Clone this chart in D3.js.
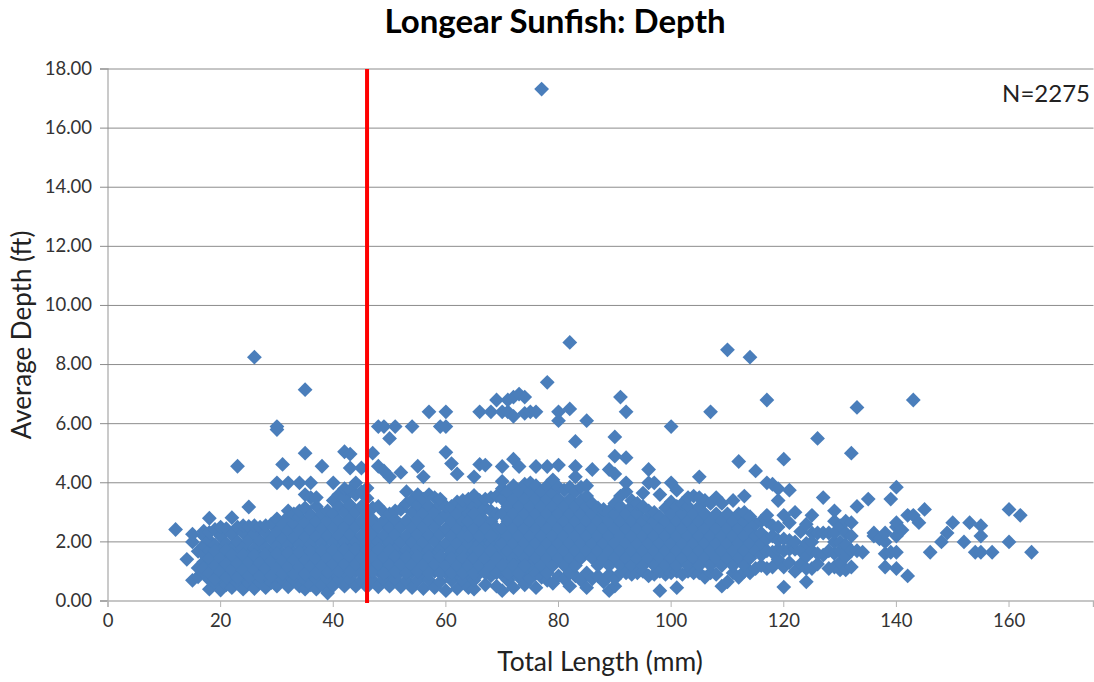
<!DOCTYPE html>
<html><head><meta charset="utf-8">
<script src="https://cdn.jsdelivr.net/npm/d3@7/dist/d3.min.js"></script>
<style>html,body{margin:0;background:#fff}svg{display:block}text{font-family:Lato,"Open Sans",sans-serif}</style>
</head><body><div id="c"></div>
<script>
const chartTitle = "Longear Sunfish: Depth";
const xLabel = "Total Length (mm)";
const yLabel = "Average Depth (ft)";
const note = "N=2275";
const xTicks = [0,20,40,60,80,100,120,140,160];
const yTicks = [0,2,4,6,8,10,12,14,16,18];
const cutoffLength = 46;
const lengths = [12,14,15,16,17,18,19,20,21,22,23,24,25,26,27,28,29,30,31,32,33,34,35,36,37,38,39,40,41,42,43,44,45,46,47,48,49,50,51,52,53,54,55,56,57,58,59,60,61,62,63,64,65,66,67,68,69,70,71,72,73,74,75,76,77,78,79,80,81,82,83,84,85,86,87,88,89,90,91,92,93,94,95,96,97,98,99,100,101,102,103,104,105,106,107,108,109,110,111,112,113,114,115,116,117,118,119,120,121,122,123,124,125,126,127,128,129,130,131,132,133,134,135,136,137,138,139,140,141,142,143,144,145,146,148,149,150,152,153,154,155,157,160,162,164];
const depths = [
[2.42],[1.41],[0.7,2,2.26],[0.82,1.12,1.68],[0.95,1.32,1.58,1.88,2.2,2.36],
[0.4,0.72,1.2,1.7,2.05,2.32,2.8],[0.6,0.95,1.45,1.9,2.42],[0.37,0.8,1.25,1.7,2.2,2.5],[0.55,1.05,1.5,1.95,2.45],[0.45,0.8,1.3,1.75,2.25,2.82],
[0.62,1,1.55,2,2.5,4.56],[0.4,0.85,1.3,1.8,2.3,2.55],[0.6,1.1,1.55,2.05,2.52,3.18],[0.42,0.82,1.3,1.78,2.28,2.55,8.25],[0.65,1.05,1.52,2.02,2.5],
[0.45,0.88,1.35,1.8,2.3,2.55],[0.62,1.1,1.6,2.08,2.6],[0.5,0.85,1.35,1.85,2.35,2.78,4,5.8,5.9],[0.72,1.12,1.6,2.1,2.6,4.62],[0.48,0.9,1.38,1.88,2.38,2.85,3.05,4],
[0.7,1.15,1.62,2.12,2.62,2.95],[0.5,0.92,1.4,1.9,2.4,2.85,3.05,4],[0.4,0.7,1.15,1.65,2.15,2.65,3.15,3.6,5,7.15],[0.55,0.95,1.42,1.92,2.42,2.9,3.5,4],[0.4,0.72,1.18,1.68,2.18,2.68,3.2,3.5],
[0.55,0.98,1.45,1.95,2.45,2.95,4.56],[0.27,0.75,1.2,1.7,2.2,2.7,3.05],[0.52,1,1.48,1.98,2.48,2.95,3.4,4],[0.75,1.22,1.72,2.22,2.72,3.2,3.6],[0.5,0.98,1.5,2,2.5,3,3.5,3.8,5.05],
[0.72,1.25,1.75,2.25,2.75,3.25,3.75,4.5,4.97],[0.5,1,1.5,2,2.5,3,3.6,4],[0.7,1.22,1.72,2.22,2.72,3.2,3.7,4.5],[0.48,0.98,1.48,1.98,2.48,2.98,3.48,3.82],[0.7,1.25,1.75,2.25,2.75,3.15,5],
[0.48,1,1.5,2,2.5,3.2,4.56,5.9],[0.72,1.22,1.72,2.22,2.72,3,4.4,5.9],[0.5,0.98,1.48,1.98,2.48,2.95,4.2,5.5],[0.72,1.25,1.75,2.25,2.75,3.05,5.9],[0.48,1,1.5,2,2.5,3.1,4.35],
[0.7,1.22,1.72,2.22,2.72,3.3,3.7],[0.45,0.98,1.48,1.98,2.48,3,3.4,5.9],[0.7,1.25,1.75,2.25,2.75,3.25,3.6,4.56],[0.42,0.98,1.48,1.98,2.48,2.98,3.45,4.2],[0.7,1.22,1.72,2.22,2.72,3.2,3.6,6.4],
[0.45,1,1.5,2,2.5,3,3.5],[0.65,1.25,1.75,2.25,2.75,3.25,3.45,5.9],[0.35,0.95,1.45,1.95,2.45,2.95,3.2,5.03,5.9,6.4],[0.7,1.2,1.7,2.2,2.7,3.2,4.65],[0.42,0.95,1.45,1.95,2.45,2.95,3.35,4.3],
[0.68,1.2,1.7,2.2,2.7,3.2,3.4],[0.45,0.95,1.45,1.95,2.45,2.95,3.45],[0.4,0.7,1.2,1.7,2.2,2.7,3.2,3.57,4.2],[0.95,1.45,1.95,2.45,2.95,3.4,4.62,6.4],[0.55,1.2,1.7,2.2,2.7,3.15,3.45,4.6],
[0.85,1.45,1.95,2.7,3.05,3.5,6.4],[0.5,1.2,1.7,2.2,2.45,2.95,3.55,6.8],[0.35,0.9,1.45,1.95,2.45,2.95,3.45,3.8,4.05,4.55,6.4],[0.7,1.2,1.7,2.2,2.7,3.2,3.7,6.4,6.8],[0.45,0.95,1.45,1.95,2.45,2.95,3.45,3.9,4.8,6.25,6.9],
[0.8,1.2,1.7,2.2,2.7,3.2,3.7,4.55,7],[0.55,0.95,1.45,1.95,2.45,2.95,3.45,3.95,6.35,6.9],[0.75,1.2,1.7,2.2,2.7,3.2,3.7,4,6.4],[0.45,0.95,1.45,1.95,2.45,2.95,3.45,3.9,4.55,6.4],[0.8,1.2,1.7,2.2,2.7,3.2,3.7,17.32],
[0.7,0.95,1.45,1.95,2.45,2.95,3.45,3.9,4.55,7.4],[0.6,1.2,1.7,2.2,2.7,3.2,3.65,4.1],[0.85,1.45,1.95,2.45,2.95,3.45,3.85,4.6,6.1,6.4],[0.75,1.2,1.7,2.2,2.7,3.2,3.75],[0.5,0.95,1.45,1.95,2.45,2.95,3.45,3.85,6.5,8.75],
[0.85,1.2,1.7,2.2,2.7,3.2,3.7,4.2,4.55,5.4],[0.7,1.45,1.95,2.45,2.95,3.4,3.85],[0.45,0.95,1.7,2.2,2.7,3.2,3.55,3.9,6.1],[0.75,1.45,1.95,2.45,2.95,3.3,4.45],[0.85,1.2,1.7,2.2,2.7,3.15],
[0.65,1.45,1.95,2.45,2.95,3.1],[0.35,0.9,1.2,1.7,2.2,2.7,3.05,4.45],[0.5,0.75,1.45,1.95,2.45,2.95,3.3,4.3,4.9,5.55],[0.95,1.2,1.7,2.2,2.7,3.2,3.55,6.9],[0.95,1.45,1.95,2.45,2.95,3.7,4,4.85,6.4],
[0.9,1.2,1.7,2.2,2.7,3.2,3.4],[0.95,1.45,1.95,2.45,2.95,3.3],[1,1.2,1.7,2.2,2.7,3.2,3.65],[0.85,1.45,1.95,2.45,2.85,3.05,4,4.45],[0.9,1.2,1.7,2.2,2.7,3,4],
[0.35,1,1.45,1.95,2.45,2.85,3.6],[0.9,1.2,1.7,2.2,2.7,3.15],[0.95,1.45,1.95,2.45,2.95,3.35,4,5.9],[0.45,1,1.2,1.7,2.2,2.7,3.2,3.75],[0.9,1.45,1.95,2.45,2.95,3.3],
[1,1.2,1.7,2.2,2.7,3.2,3.5],[0.95,1.45,1.95,2.45,2.95,3.55],[0.95,1.2,1.7,2.2,2.7,3.2,3.5,4.2],[0.8,1.45,1.95,2.45,2.95,3.4],[0.95,1.2,1.7,2.2,2.7,3.3,6.4],
[0.9,1.45,1.95,2.45,2.95,3.5],[0.5,1.2,1.7,2.2,2.7,3.3],[0.65,1.45,1.95,2.45,2.95,8.5],[0.95,1.2,1.7,2.2,2.7,3.4],[0.8,1.45,1.95,2.45,2.95,4.72],
[1,1.2,1.7,2.2,2.7,3,3.55],[0.95,1.45,1.95,2.45,2.85,8.25],[1.1,1.7,2.2,2.6,4.4],[1.2,1.55,1.95,2.3,2.7],[1.1,1.7,2.1,2.7,2.9,4,6.8],
[1.15,1.65,2.2,2.55,3.95],[1.4,1.75,2.05,2.5,3.4,3.8],[0.47,1.15,1.7,2.1,2.9,4.8],[1.3,1.75,2.05,2.65,3.75],[1,1.75,2,3],
[1.25,1.7,2.35],[0.65,1.1,1.5,1.95,2.6],[1.1,1.7,2,2.3,2.9],[1.25,1.6,2.3,5.5],[1.55,2.3,3.5],[1.1,1.7,2.3],[1.15,1.6,2,2.3,2.7,3.05],[1.05,1.3,1.7,2,2.55],[1.05,1.5,1.9,2.3,2.7],[1.15,1.7,2.2,2.65,5],[1.7,3.2,6.55],[1.65],[3.45],[2.2,2.3],[2.1],[1.15,1.6,2,2.3],[1.65,3.45],[1.1,1.65,2.2,2.5,2.65,3.85],[2.4],[0.85,2.9],[2.9,6.8],[2.65],[3.1],[1.65],[2],[2.3],[2.65],[2],[2.65],[1.65],[1.65,2.2,2.55],[1.65],[2,3.1],[2.9],[1.65]
];
const extraLengths = [17,18,18,19,19,19,20,20,21,21,21,22,22,23,23,24,24,25,25,26,26,27,27,28,28,29,29,30,30,31,31,32,32,33,33,34,34,35,35,36,36,37,37,38,38,39,39,40,40,41,41,42,42,43,43,44,44,45,45,46,46,47,47,48,48,49,49,50,50,51,51,52,53,53,54,55,55,56,57,57,58,59,59,60,61,61,62,63,63,64,64,64,65,65,65,65,66,66,66,66,67,67,67,68,68,68,69,69,70,71,72,73,74];
const extraDepths = [1.1,0.95,1.45,0.75,1.2,1.7,1,1.45,0.8,1.25,1.72,1.05,1.55,0.8,1.28,1.05,1.55,0.85,1.32,1.05,1.55,0.85,1.28,1.1,1.58,0.85,1.35,1.1,1.6,0.92,1.36,1.15,1.62,0.92,1.38,1.15,1.65,0.92,1.4,1.18,1.68,0.95,1.42,1.2,1.7,0.98,1.45,1.25,1.72,1,1.48,1.25,1.75,1,1.5,1.25,1.75,0.95,1.47,1.22,1.72,1,1.5,1.25,1.75,0.95,1.48,1.22,1.72,1,1.5,1.25,0.95,1.48,1.22,1,1.5,1.22,0.95,1.48,1.25,0.95,1.5,1.2,0.95,1.45,1.2,0.95,1.45,1.2,2.2,2.7,0.95,1.45,2.45,2.95,1.2,1.7,2.2,2.7,0.95,1.45,2.45,1.2,1.7,2.2,0.95,1.45,1.2,0.95,1.2,0.95,1.2];
const W=1094,H=682,m={l:108,r:1093.5,t:69,b:601};
const x=d3.scaleLinear().domain([0,175]).range([m.l,m.r]);
const y=d3.scaleLinear().domain([0,18]).range([m.b,m.t]);
const svg=d3.select("#c").append("svg").attr("width",W).attr("height",H);
const gridC="#8c8c8c", axisC="#b4b4b4", tickC="#333333";
const gy=svg.append("g").attr("transform",`translate(${m.l},0)`).call(d3.axisLeft(y).tickValues(yTicks).tickFormat(d3.format(".2f")).tickSize(8).tickPadding(8).offset(0));
gy.select(".domain").attr("stroke",axisC).attr("stroke-width",1.4);
gy.selectAll(".tick line").attr("stroke",gridC);
gy.selectAll(".tick text").attr("font-size",18.5).attr("fill",tickC).style("font-family","Lato");
svg.append("g").selectAll("line").data(yTicks.filter(d=>d>0)).join("line").attr("x1",m.l).attr("x2",m.r).attr("y1",d=>y(d)).attr("y2",d=>y(d)).attr("stroke",gridC);
const gx=svg.append("g").attr("transform",`translate(0,${m.b})`).call(d3.axisBottom(x).tickValues(xTicks).tickSize(6).tickPadding(7).offset(0));
gx.select(".domain").attr("stroke",axisC).attr("stroke-width",1.4);
gx.selectAll(".tick line").attr("stroke",axisC);
gx.selectAll(".tick text").attr("font-size",18.5).attr("fill",tickC).style("font-family","Lato");
const pts=lengths.flatMap((l,i)=>depths[i].map(d=>({l,d}))).concat(extraLengths.map((l,i)=>({l,d:extraDepths[i]})));
svg.append("g").selectAll("path").data(pts).join("path")
 .attr("d",d=>{const r=7.4,cx=x(d.l),cy=y(d.d);const p=d3.path();p.moveTo(cx,cy-r);p.lineTo(cx+r,cy);p.lineTo(cx,cy+r);p.lineTo(cx-r,cy);p.closePath();return p.toString();})
 .attr("fill","#4a7ebb");
svg.append("line").attr("x1",x(cutoffLength)).attr("x2",x(cutoffLength)).attr("y1",y(18)).attr("y2",y(0)+2).attr("stroke","#ff0000").attr("stroke-width",4);
svg.append("text").attr("x",555).attr("y",33).attr("text-anchor","middle").attr("font-size",33).attr("font-weight",700).attr("fill","#000").text(chartTitle);
svg.append("text").attr("x",600).attr("y",671).attr("text-anchor","middle").attr("font-size",26.4).attr("fill","#222").text(xLabel);
svg.append("text").attr("transform","translate(31,335) rotate(-90)").attr("text-anchor","middle").attr("font-size",26).attr("fill","#222").text(yLabel);
svg.append("text").attr("x",1090).attr("y",102).attr("text-anchor","end").attr("font-size",24).attr("fill","#222").text(note);
</script></body></html>
